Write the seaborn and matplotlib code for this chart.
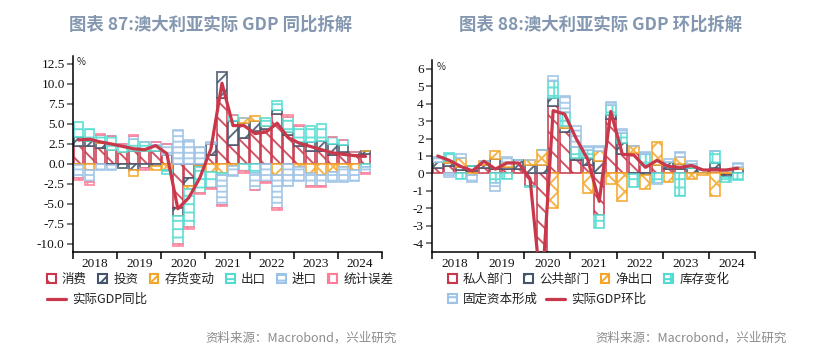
import numpy as np
import matplotlib
matplotlib.use('Agg')
import matplotlib.pyplot as plt
import matplotlib.colors as mcolors
import seaborn as sns
from matplotlib.patches import Patch
from matplotlib.lines import Line2D

sns.set_theme(style='ticks')
plt.rcParams['font.family'] = ['Noto Sans CJK SC', 'DejaVu Sans']
plt.rcParams['hatch.linewidth'] = 1.4
plt.rcParams['axes.unicode_minus'] = False

# 2018Q1 - 2024Q3
years = ['2018', '2019', '2020', '2021', '2022', '2023', '2024']

# 图表 87: 同比拆解
cons = [2.3, 2.2, 2.0, 1.7, 1.45, 1.6, 1.6, 1.6, 1.15, -5.5, -1.8, -0.2, 1.15, 8.25, 2.4, 3.25,
        4.1, 4.4, 6.25, 3.65, 2.2, 1.65, 1.6, 1.15, 1.5, 1.15, 1.25]
inv = [1.1, 0.7, 0.6, -0.1, -0.5, -0.8, -0.5, -0.2, 0.0, -0.95, -1.0, 0.0, 1.3, 3.3, 3.0, 1.9,
       1.25, 0.4, 0.55, 0.4, 0.55, 1.1, 1.25, 1.3, 0.85, 0.3, 0.35]
stock = [-0.15, -0.7, 0.1, 0.0, 0.0, -0.75, 0.0, -0.5, -0.7, -0.1, -0.3, -0.2, -1.0, -1.1, -0.2, 0.6,
         0.7, 0.0, -1.4, 0.0, -0.4, -1.1, -1.35, -1.0, -0.4, -0.7, 0.0]
exports = [1.8, 1.5, 0.9, 1.8, 1.0, 1.5, 1.15, 0.8, -0.5, -3.4, -4.8, -3.2, -2.0, -0.3, 0.75, -0.9,
           -1.1, 1.0, 1.05, 1.85, 2.0, 1.95, 2.15, 0.95, 0.7, 0.0, -0.4]
imports = [-1.6, -1.6, -0.7, -0.7, 0.0, 0.4, 0.0, 0.3, 1.3, 4.2, 3.0, 2.1, 0.25, -3.75, -1.3, 0.0,
           -2.1, -2.2, -4.1, -2.8, -1.75, -1.65, -1.45, -1.25, -1.9, -1.4, -0.7]
err = [-0.3, -0.3, 0.2, 0.0, 0.1, 0.1, -0.3, 0.0, 0.0, -0.3, -0.2, -0.2, -0.1, -0.15, 0.0, -0.2,
       -0.1, -0.15, -0.2, 0.2, 0.1, -0.1, -0.1, 0.0, 0.0, 0.1, -0.2]
gdp_yoy = [3.0, 3.1, 2.75, 2.5, 2.2, 1.9, 1.8, 2.3, 1.3, -5.6, -4.2, -1.7, 1.9, 10.1, 4.8, 4.8,
           3.8, 4.0, 5.1, 3.3, 2.6, 2.2, 1.8, 1.4, 1.2, 1.05, 0.95]

# 图表 88: 环比拆解
private = [0.3, 0.4, 0.2, 0.15, 0.3, 0.25, 0.25, 0.25, -0.7, -7.0, 3.85, 2.4, 0.75, 0.5, -2.4, 3.1,
           1.1, 1.2, 0.5, 0.5, 0.25, 0.25, 0.0, 0.0, 0.3, -0.1, 0.0]
public = [0.35, 0.2, 0.15, 0.25, 0.2, 0.55, 0.1, 0.5, 0.5, 0.5, 0.5, 0.2, 0.15, 0.4, 0.7, 0.25,
          0.65, -0.05, -0.1, 0.0, 0.4, 0.3, 0.3, 0.2, 0.3, -0.1, 0.25]
netexp = [0.0, 0.1, 0.55, -0.1, 0.2, 0.5, 0.3, 0.0, 0.25, 0.85, -2.0, 0.1, 0.0, -1.1, 0.6, -0.6,
          -1.6, 0.4, -0.8, 1.3, -0.5, 0.4, -0.3, -0.1, -1.3, 0.15, 0.1]
inventory = [0.0, 0.5, -0.3, 0.0, 0.0, -0.55, -0.3, 0.0, -0.1, 0.0, 0.95, 0.8, 0.6, 0.45, -0.7, 0.6,
             0.55, -0.75, 0.6, -0.55, 0.0, -1.3, 0.2, 0.0, 0.7, -0.3, -0.4]
gfcf = [0.3, -0.2, 0.2, -0.4, 0.0, -0.45, 0.3, 0.0, 0.0, 0.0, 0.3, 0.95, 1.2, 0.2, 0.25, 0.15,
        0.25, 0.0, 0.15, -0.05, 0.15, 0.3, 0.2, 0.0, 0.0, 0.0, 0.25]
gdp_qoq = [1.0, 0.75, 0.4, 0.15, 0.7, 0.25, 0.6, 0.6, -0.3, -7.0, 3.6, 3.4, 2.0, 0.8, -1.6, 3.55,
           1.1, 1.05, 0.35, 0.75, 0.4, 0.35, 0.45, 0.2, 0.2, 0.2, 0.3]

RED = '#C8374A'
NAVY = '#44546A'
ORANGE = '#F4A62A'
CYAN = '#52DBD2'
LBLUE = '#9DC3E6'
PINK = '#FF7C98'


def soft(c, a=0.85):
    return mcolors.to_rgba(c, a)


def stacked_bars(ax, series, colors, hatches):
    n = len(series[0])
    x = np.arange(n)
    pos = np.zeros(n)
    neg = np.zeros(n)
    for vals, c, h in zip(series, colors, hatches):
        v = np.array(vals, dtype=float)
        bottom = np.where(v >= 0, pos, neg)
        ax.bar(x, v, bottom=bottom, width=0.86, facecolor='white', edgecolor=soft(c),
               hatch=h, linewidth=1.3, zorder=2)
        pos += np.clip(v, 0, None)
        neg += np.clip(v, None, 0)


def style_axis(ax, ylim, yticks, ylabels):
    ax.set_xlim(-0.5, 27.5)
    ax.set_ylim(*ylim)
    ax.set_yticks(yticks)
    ax.set_yticklabels(ylabels, fontfamily='Liberation Serif', fontsize=9.5, color='#111111')
    ax.set_xticks(np.arange(-0.5, 28, 4))
    ax.set_xticklabels([])
    ax.set_xticks(np.arange(1.5, 28, 4), minor=True)
    ax.set_xticklabels(years, minor=True, fontfamily='Liberation Serif', fontsize=9.5, color='#111111')
    ax.tick_params(axis='x', which='major', length=5, width=1.1, color='black')
    ax.tick_params(axis='x', which='minor', length=0, pad=4)
    ax.tick_params(axis='y', length=4, width=1.1, pad=2, color='#555555')
    for s in ['left', 'bottom']:
        ax.spines[s].set_color('black')
        ax.spines[s].set_linewidth(1.1)
    sns.despine(ax=ax)
    ax.set_xlabel('')
    ax.set_ylabel('')
    ax.set_facecolor('white')


fig = plt.figure(figsize=(8.24, 3.55), dpi=100)
fig.patch.set_facecolor('white')

# ---- 左图 ----
ax1 = fig.add_axes([73 / 824, 103 / 355, 309 / 824, 196 / 355])
c1 = [RED, NAVY, ORANGE, CYAN, LBLUE, PINK]
h1 = ['\\\\', '//', 'xx', '--', '---', '||']
stacked_bars(ax1, [cons, inv, stock, exports, imports, err], c1, h1)
sns.lineplot(x=np.arange(len(gdp_yoy)), y=gdp_yoy, ax=ax1, color=RED, linewidth=2.3, zorder=3)
yt1 = np.arange(-10, 12.6, 2.5)
style_axis(ax1, (-11, 13.5), yt1, ['%.1f' % v for v in yt1])

# ---- 右图 ----
ax2 = fig.add_axes([432 / 824, 103 / 355, 323 / 824, 192 / 355])
c2 = [RED, NAVY, ORANGE, CYAN, LBLUE]
h2 = ['\\\\', '//', 'xx', '++', '---']
stacked_bars(ax2, [private, public, netexp, inventory, gfcf], c2, h2)
sns.lineplot(x=np.arange(len(gdp_qoq)), y=gdp_qoq, ax=ax2, color=RED, linewidth=2.3, zorder=3)
yt2 = np.arange(-4, 7, 1)
style_axis(ax2, (-4.5, 6.5), yt2, ['%d' % v for v in yt2])

# 标题
title_color = '#8497B0'
fig.text(211 / 824, 1 - 25 / 355, '图表 87:澳大利亚实际 GDP 同比拆解', ha='center', va='center',
         fontsize=12.5, fontweight='bold', color=title_color)
fig.text(601 / 824, 1 - 25 / 355, '图表 88:澳大利亚实际 GDP 环比拆解', ha='center', va='center',
         fontsize=12.5, fontweight='bold', color=title_color)

# %
fig.text(81 / 824, 1 - 62 / 355, '%', fontsize=7, ha='center', va='center', color='#222222')
fig.text(441 / 824, 1 - 67 / 355, '%', fontsize=7, ha='center', va='center', color='#222222')


def patch(c, h):
    return Patch(facecolor='white', edgecolor=c, hatch=h, linewidth=1.5)


leg_kw = dict(frameon=False, fontsize=9, borderpad=0, borderaxespad=0, handletextpad=0.5,
              columnspacing=0.9, loc='upper left', labelcolor='#222222')

# 左图图例
fig.legend([patch(c, h) for c, h in zip(c1, h1)],
           ['消费', '投资', '存货变动', '出口', '进口', '统计误差'],
           ncol=6, handlelength=0.7, handleheight=0.7,
           bbox_to_anchor=(47 / 824, 1 - 273 / 355), **leg_kw)
fig.legend([Line2D([], [], color=RED, lw=2.3)], ['实际GDP同比'], handlelength=1.5,
           bbox_to_anchor=(47 / 824, 1 - 293 / 355), **leg_kw)

# 右图图例
fig.legend([patch(c, h) for c, h in zip(c2[:4], h2[:4])],
           ['私人部门', '公共部门', '净出口', '库存变化'],
           ncol=4, handlelength=0.7, handleheight=0.7,
           bbox_to_anchor=(448 / 824, 1 - 273 / 355), **leg_kw)
fig.legend([patch(LBLUE, '---')], ['固定资本形成'], handlelength=0.7, handleheight=0.7,
           bbox_to_anchor=(448 / 824, 1 - 293 / 355), **leg_kw)
fig.legend([Line2D([], [], color=RED, lw=2.3)], ['实际GDP环比'], handlelength=1.5,
           bbox_to_anchor=(546 / 824, 1 - 293 / 355), **leg_kw)

# 资料来源
fig.text(397 / 824, 1 - 338 / 355, '资料来源：Macrobond，兴业研究', ha='right', va='center',
         fontsize=9, color='#8C8C8C')
fig.text(787 / 824, 1 - 338 / 355, '资料来源：Macrobond，兴业研究', ha='right', va='center',
         fontsize=9, color='#8C8C8C')

fig.savefig('out.png', dpi=100, facecolor='white')
